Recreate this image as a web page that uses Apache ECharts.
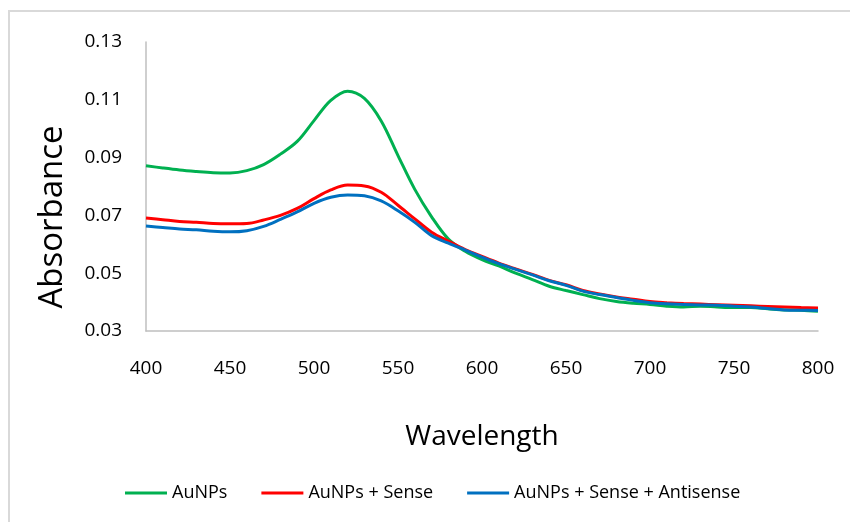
<!DOCTYPE html>
<html>
<head>
<meta charset="utf-8">
<script src="https://cdn.jsdelivr.net/npm/echarts@6/dist/echarts.min.js"></script>
<style>html,body{margin:0;padding:0;background:#fff;}#chart{width:850px;height:522px;}</style>
</head>
<body>
<div id="chart"></div>
<script>
const wavelengths = [400,410,420,430,440,450,460,470,480,490,500,510,520,530,540,550,560,570,580,590,600,610,620,630,640,650,660,670,680,690,700,710,720,730,740,750,760,770,780,790,800];
const aunps = [0.0872,0.0864,0.0857,0.0852,0.0848,0.0847,0.0855,0.0876,0.0912,0.0956,0.1028,0.1098,0.1130,0.1105,0.1027,0.0907,0.0790,0.0695,0.0618,0.0576,0.0547,0.0525,0.0500,0.0478,0.0455,0.0440,0.0426,0.0412,0.0402,0.0396,0.0392,0.0386,0.0383,0.0386,0.0383,0.0381,0.0381,0.0377,0.0373,0.0372,0.0368];
const aunpsSense = [0.0691,0.0685,0.0679,0.0676,0.0672,0.0671,0.0672,0.0684,0.0700,0.0724,0.0758,0.0788,0.0805,0.0802,0.0780,0.0735,0.0688,0.0642,0.0611,0.0582,0.0558,0.0535,0.0515,0.0496,0.0475,0.0460,0.0440,0.0428,0.0418,0.0410,0.0402,0.0398,0.0395,0.0393,0.0391,0.0389,0.0387,0.0385,0.0383,0.0381,0.0380];
const aunpsSenseAnti = [0.0663,0.0658,0.0653,0.0650,0.0645,0.0643,0.0647,0.0662,0.0686,0.0712,0.0742,0.0763,0.0771,0.0768,0.0750,0.0716,0.0676,0.0630,0.0604,0.0580,0.0556,0.0533,0.0513,0.0494,0.0474,0.0458,0.0438,0.0426,0.0416,0.0406,0.0398,0.0394,0.0392,0.0390,0.0389,0.0386,0.0383,0.0378,0.0373,0.0372,0.0371];
const seriesNames = ['AuNPs','AuNPs + Sense','AuNPs + Sense + Antisense'];
const yTickLabels = ['0.03','0.05','0.07','0.09','0.11','0.13'];
const xMin = 400, xMax = 800, xStep = 50;
const yMin = 0.03, yMax = 0.13;

const pairs = arr => wavelengths.map((w,i)=>[w,arr[i]]);
const font = '"Open Sans", sans-serif';
const chart = echarts.init(document.getElementById('chart'));
chart.setOption({
  animation:false,
  backgroundColor:'#fff',
  color:['#00b050','#ff0000','#0070c0'],
  grid:{left:146,right:32,top:42,bottom:191},
  xAxis:{type:'value',min:xMin,max:xMax,interval:xStep,
    name:'Wavelength',nameLocation:'middle',nameGap:92,
    nameTextStyle:{fontFamily:font,fontSize:28,color:'#000'},
    axisLine:{lineStyle:{color:'#bfbfbf',width:1.5}},
    axisTick:{show:false},splitLine:{show:false},
    axisLabel:{fontFamily:font,fontSize:19,color:'#000',margin:28}},
  yAxis:[
    {type:'value',min:yMin,max:yMax,show:false,splitLine:{show:false}},
    {type:'category',data:yTickLabels,boundaryGap:false,position:'left',
      axisLine:{lineStyle:{color:'#bfbfbf',width:1.5}},
      axisTick:{show:false},splitLine:{show:false},
      axisLabel:{fontFamily:font,fontSize:19,color:'#000',margin:24}}
  ],
  legend:{data:seriesNames,left:125,top:484,icon:'rect',itemWidth:42,itemHeight:3,itemGap:34,padding:0,
    textStyle:{fontFamily:font,fontSize:18,color:'#000'}},
  graphic:[
    {type:'rect',shape:{x:9,y:11,width:900,height:600},style:{fill:'none',stroke:'#d9d9d9',lineWidth:2},silent:true},
    {type:'text',x:53,y:217,rotation:Math.PI/2,style:{text:'Absorbance',font:'33px "Open Sans", sans-serif',fill:'#000',align:'center',verticalAlign:'middle'}}
  ],
  series:[
    {name:seriesNames[0],type:'line',yAxisIndex:0,data:pairs(aunps),showSymbol:false,smooth:0.35,lineStyle:{width:3}},
    {name:seriesNames[1],type:'line',yAxisIndex:0,data:pairs(aunpsSense),showSymbol:false,smooth:0.35,lineStyle:{width:3}},
    {name:seriesNames[2],type:'line',yAxisIndex:0,data:pairs(aunpsSenseAnti),showSymbol:false,smooth:0.35,lineStyle:{width:3}}
  ]
});
</script>
</body>
</html>
